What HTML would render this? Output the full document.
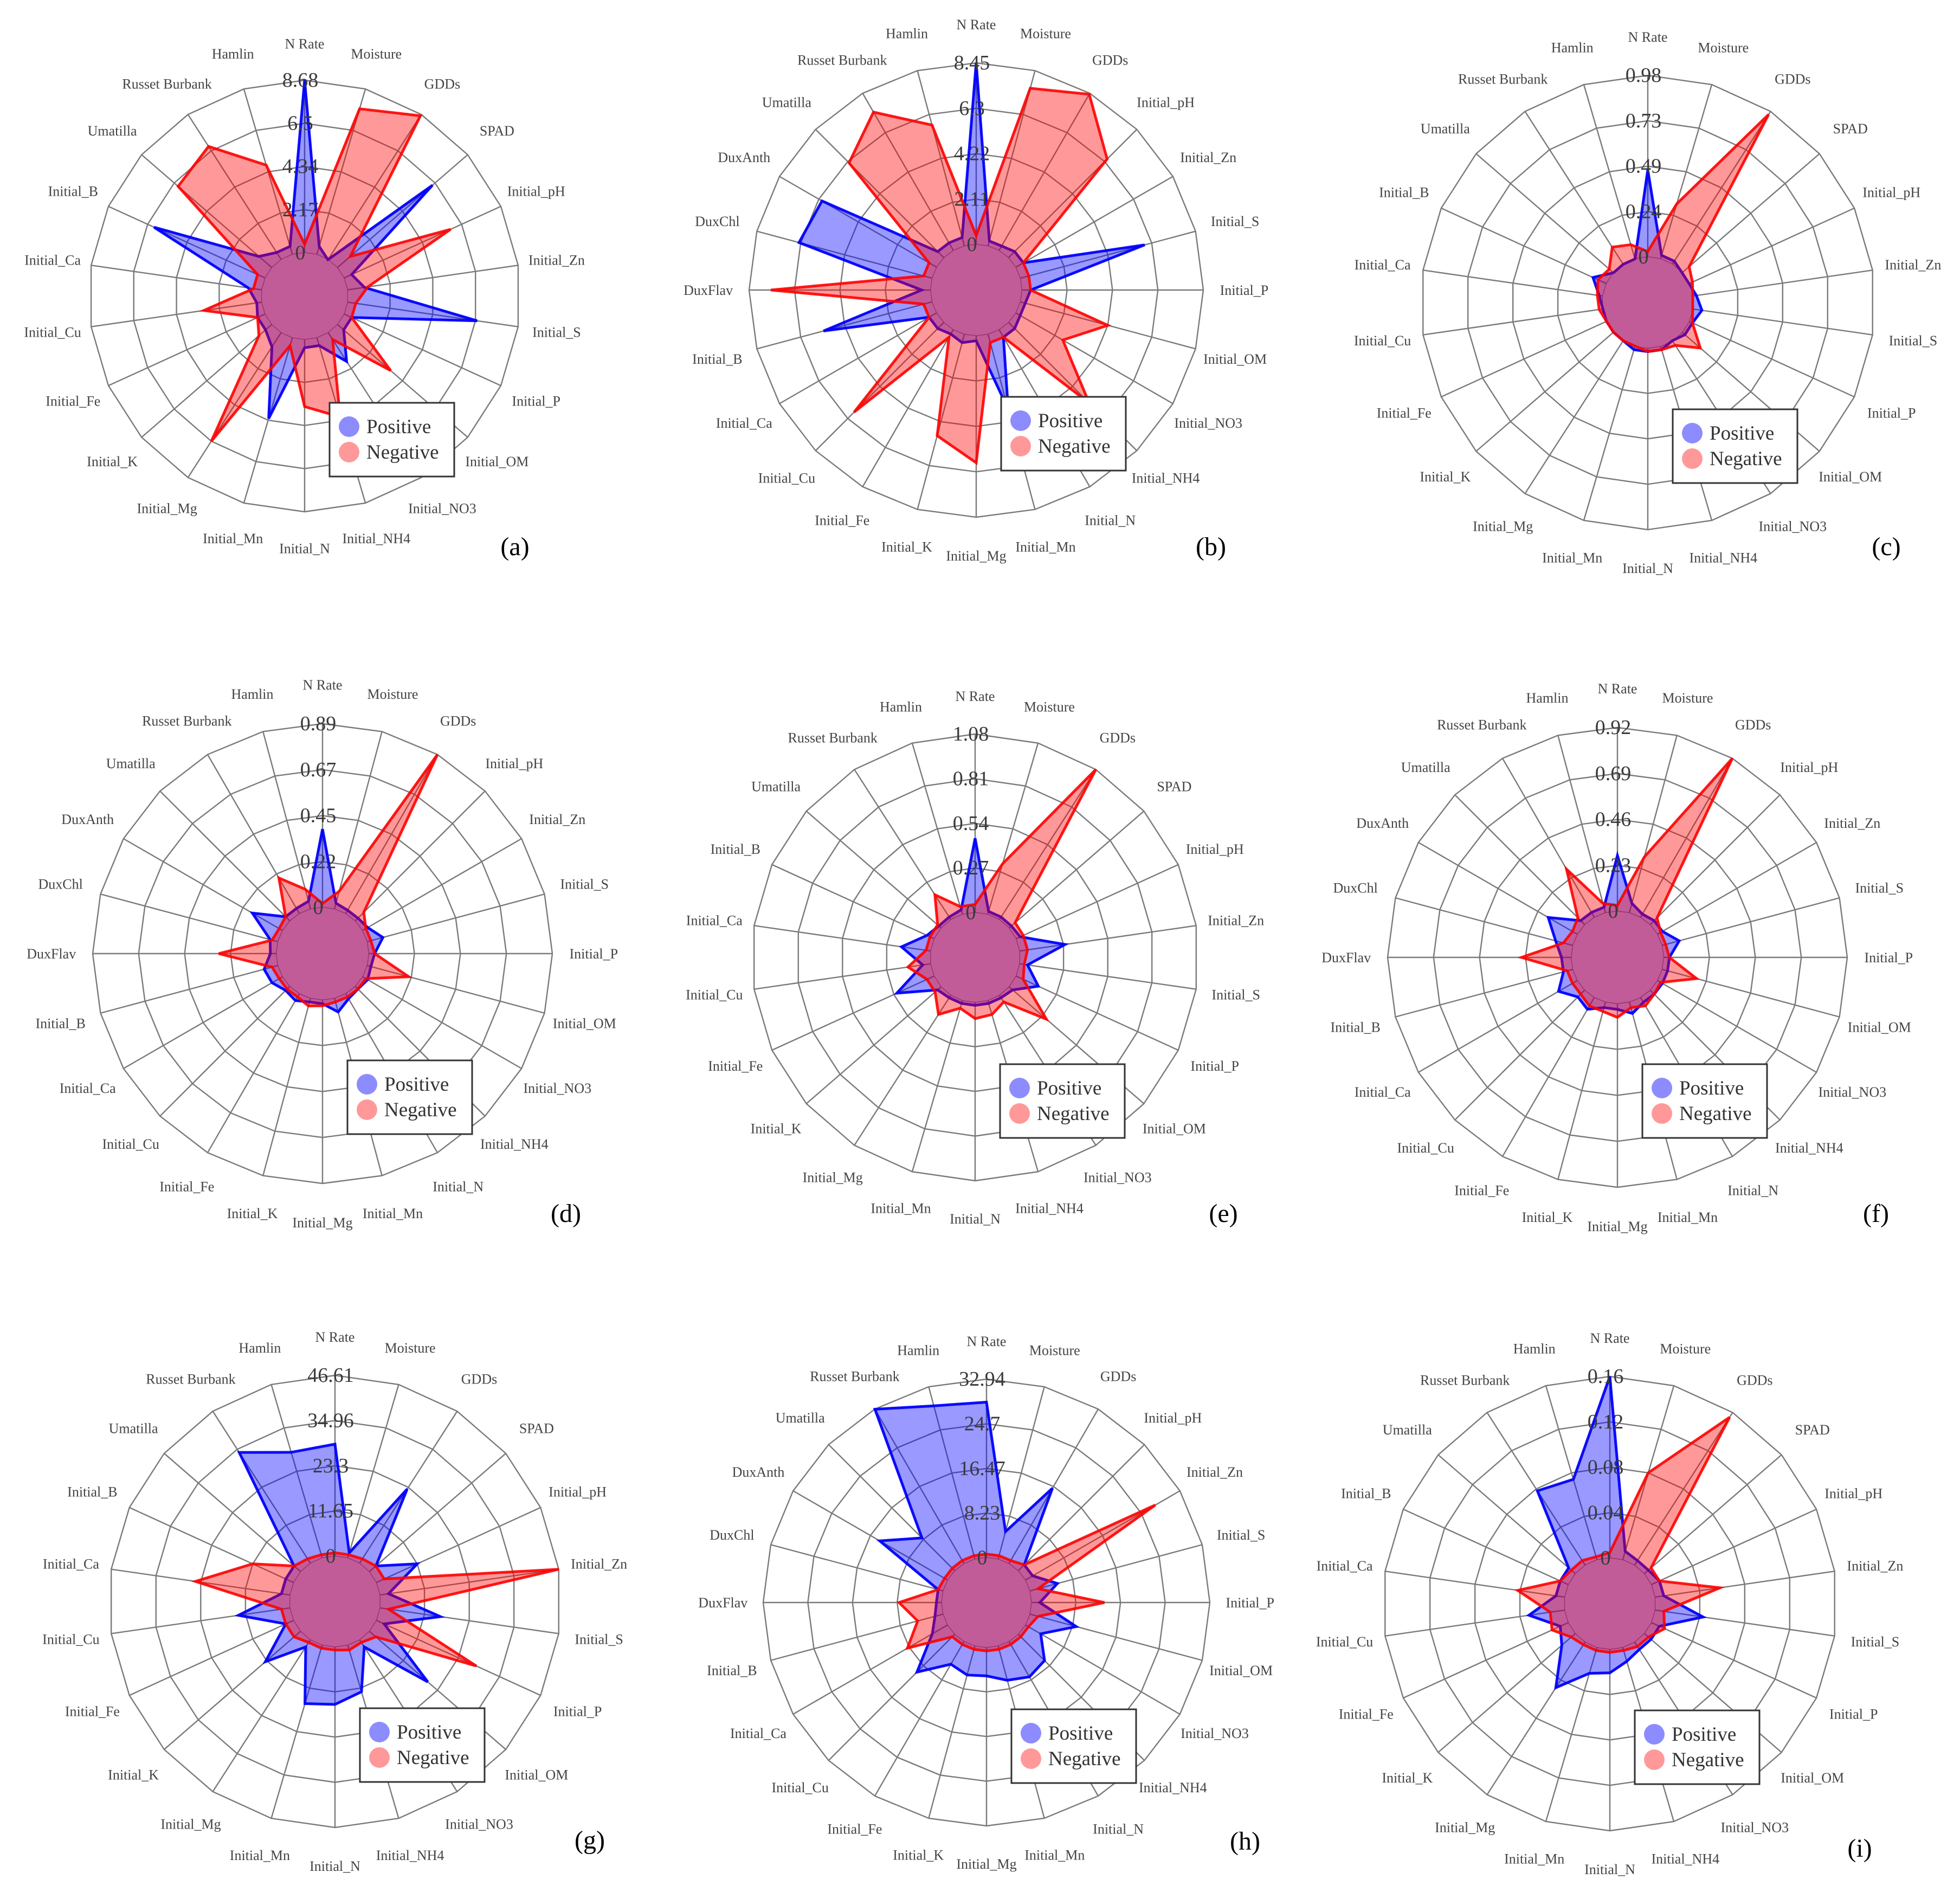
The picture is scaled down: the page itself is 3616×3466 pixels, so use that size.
<!DOCTYPE html>
<html>
<head>
<meta charset="utf-8">
<style>
html,body{margin:0;padding:0;background:#fff;}
svg{display:block;}
text{font-family:"Liberation Serif",serif;}
</style>
</head>
<body>
<svg id="fig" xmlns="http://www.w3.org/2000/svg" width="3616" height="3466" viewBox="0 0 3616 3466">
<rect width="3616" height="3466" fill="#fff"/>
</svg>
<script>
// ---- axis categories ----
const axes22 = ["N Rate","Moisture","GDDs","SPAD","Initial_pH","Initial_Zn","Initial_S","Initial_P","Initial_OM","Initial_NO3","Initial_NH4","Initial_N","Initial_Mn","Initial_Mg","Initial_K","Initial_Fe","Initial_Cu","Initial_Ca","Initial_B","Umatilla","Russet Burbank","Hamlin"];
const axes24 = ["N Rate","Moisture","GDDs","Initial_pH","Initial_Zn","Initial_S","Initial_P","Initial_OM","Initial_NO3","Initial_NH4","Initial_N","Initial_Mn","Initial_Mg","Initial_K","Initial_Fe","Initial_Cu","Initial_Ca","Initial_B","DuxFlav","DuxChl","DuxAnth","Umatilla","Russet Burbank","Hamlin"];

// ---- scale maxima and tick labels ----
const maxA = 8.68, ticksA = ["0","2.17","4.34","6.5","8.68"];
const maxB = 8.45, ticksB = ["0","2.11","4.22","6.3","8.45"];
const maxC = 0.98, ticksC = ["0","0.24","0.49","0.73","0.98"];
const maxD = 0.89, ticksD = ["0","0.22","0.45","0.67","0.89"];
const maxE = 1.08, ticksE = ["0","0.27","0.54","0.81","1.08"];
const maxF = 0.92, ticksF = ["0","0.23","0.46","0.69","0.92"];
const maxG = 46.61, ticksG = ["0","11.65","23.3","34.96","46.61"];
const maxH = 32.94, ticksH = ["0","8.23","16.47","24.7","32.94"];
const maxI = 0.16, ticksI = ["0","0.04","0.08","0.12","0.16"];

// ---- series values ----
const posA = [8.68,.43,0,6.34,.43,.87,6.6,.43,.43,1.74,.43,.43,4.25,.87,.43,.43,.26,.69,6.16,.87,.43,.43];
const negA = [.43,7.64,8.6,.87,5.9,1.04,.43,.43,3.56,.43,4.17,3.39,.43,6.51,.87,.43,2.95,.43,.43,6.25,6.77,4.69];
const posB = [8.45,.25,.25,.42,.42,6.0,.42,.25,.25,.42,.42,3.63,.25,.42,.25,.42,.42,5.24,.42,6.42,6.17,.42,.42,.42];
const negB = [.42,7.6,8.4,6.5,.42,.42,.42,4.23,2.54,5.32,.42,.42,5.92,4.9,.42,5.92,.42,.42,7.44,.42,.42,6.25,7.44,5.83];
const posC = [.47,.02,.02,0,0,.02,.05,.02,.02,0,.02,.02,.02,0,0,0,0,.02,.08,0,0,0];
const negC = [.03,.31,.96,.05,.02,0,0,.02,.13,.03,.02,.02,0,0,0,0,.02,.03,.05,.03,.11,.08];
const posD = [.38,.03,.02,.02,.03,.08,.03,.02,.03,.02,.03,.07,.02,.02,.04,.03,.06,.07,.03,.04,.17,.03,.03,.04];
const negD = [.02,.09,.89,.06,.02,.02,.03,.21,.02,.02,.02,.02,.03,.04,.02,.02,.02,.03,.28,.03,.02,.03,.2,.1];
const posE = [.45,.02,.02,.02,.03,.28,.05,.15,.03,.02,.02,.02,.02,.02,.03,.25,.05,.18,.05,.02,.02,.03];
const negE = [.05,.32,1.08,.05,.05,.05,.03,.05,.3,.05,.09,.1,.05,.14,.05,.05,.14,.03,.03,.03,.18,.05];
const posF = [.28,.05,.02,.03,.03,.09,.03,.03,.03,.03,.03,.06,.03,.03,.07,.05,.11,.05,.05,.09,.17,.03,.03,.03];
const negF = [.03,.29,.92,.05,.02,.02,.03,.18,.02,.03,.05,.03,.07,.05,.05,.03,.03,.03,.25,.05,.03,.05,.28,.05];
const posG = [28.9,1.4,22.8,2.3,11.7,2.3,15.8,2.3,20.0,2.3,12.6,14.9,15.8,2.3,12.1,2.3,13.5,2.3,2.3,2.3,34.0,28.4];
const negG = [.9,.9,1.4,2.3,2.3,46.6,2.3,28.4,2.3,.9,1.4,.9,.9,.9,2.3,2.3,2.3,24.7,11.7,2.3,1.4,.9];
const posH = [28.7,5.3,16.1,1.6,1.6,5.3,1.6,8.9,3.3,6.9,7.6,6.6,5.3,5.6,4.9,9.9,3.3,1.6,1.0,1.0,14.5,8.6,32.9,29.3];
const negH = [.7,.7,.7,1.6,27.7,1.6,13.5,1.6,.7,.7,.7,.7,.7,.7,.7,.7,8.6,4.9,7.9,1.0,.7,.7,.7,.7];
const posI = [.16,.008,.005,.005,.008,.008,.043,.008,.008,.008,.013,.021,.024,.048,.016,.008,.032,.008,.008,.008,.078,.074];
const negI = [.005,.08,.155,.008,.008,.058,.008,.013,.005,.005,.003,.003,.003,.003,.005,.016,.013,.042,.008,.005,.005,.003];

const panelLetters = ["(a)","(b)","(c)","(d)","(e)","(f)","(g)","(h)","(i)"];

const NS = "http://www.w3.org/2000/svg";
const svg = document.getElementById("fig");
function mk(tag, parent){ const e = document.createElementNS(NS, tag); parent.appendChild(e); return e; }

function radar(letter, cx, cy, R, axes, max, ticks, pos, neg, lx, ly){
  const g = mk("g", svg);
  
  
  const n = axes.length;
  const ang = i => i * 2 * Math.PI / n;
  const rad = v => R * (0.2 + 0.8 * v / max);
  const px = (i, r) => cx + r * Math.sin(ang(i));
  const py = (i, r) => cy - r * Math.cos(ang(i));
  // grid rings
  for (let k = 1; k <= 5; k++) {
    const rr = R * k / 5;
    const pts = [];
    for (let i = 0; i < n; i++) pts.push(px(i, rr).toFixed(1) + "," + py(i, rr).toFixed(1));
    const p = mk("polygon", g);
    
    
    p.setAttribute("points", pts.join(" "));
    p.setAttribute("fill", "none"); p.setAttribute("stroke", "#7a7a7a"); p.setAttribute("stroke-width", "2.4");
  }
  // axis lines
  for (let i = 0; i < n; i++) {
    const l = mk("line", g);
    
    
    l.setAttribute("x1", cx); l.setAttribute("y1", cy);
    l.setAttribute("x2", px(i, R)); l.setAttribute("y2", py(i, R));
    l.setAttribute("stroke", "#7a7a7a"); l.setAttribute("stroke-width", "2.4");
  }
  // white core hiding inner grid
  const corePts = [];
  for (let i = 0; i < n; i++) corePts.push(px(i, R * 0.2).toFixed(1) + "," + py(i, R * 0.2).toFixed(1));
  const core = mk("polygon", g);
  
  
  core.setAttribute("points", corePts.join(" "));
  core.setAttribute("fill", "#fff");
  // series
  function series(vals, fill, stroke, name){
    const pts = vals.map((v, i) => px(i, rad(v)).toFixed(1) + "," + py(i, rad(v)).toFixed(1));
    const p = mk("polygon", g);
    
    
    p.setAttribute("points", pts.join(" "));
    p.setAttribute("fill", fill); p.setAttribute("stroke", stroke);
    p.setAttribute("stroke-width", "5"); p.setAttribute("stroke-linejoin", "miter");
  }
  series(pos, "rgba(0,0,255,0.4)", "rgba(0,0,255,0.95)", "positive-series");
  series(neg, "rgba(255,0,0,0.4)", "rgba(255,0,0,0.9)", "negative-series");
  // tick labels
  for (let k = 0; k < ticks.length; k++) {
    const t = mk("text", g);
    
    
    t.setAttribute("x", cx - 8);
    t.setAttribute("y", cy - R * (0.2 + 0.8 * k / (ticks.length - 1)) + 12);
    t.setAttribute("text-anchor", "middle");
    t.setAttribute("font-size", "38"); t.setAttribute("fill", "#3a3a3a");
    t.textContent = ticks[k];
  }
  // axis labels
  for (let i = 0; i < n; i++) {
    const t = mk("text", g);
    
    
    t.setAttribute("x", px(i, R * 1.18).toFixed(1));
    t.setAttribute("y", (py(i, R * 1.17) + 9).toFixed(1));
    t.setAttribute("text-anchor", "middle");
    t.setAttribute("font-size", "26"); t.setAttribute("fill", "#444");
    t.textContent = axes[i];
  }
  // legend
  const lg = mk("g", g);
  
  
  const bx = cx + 46, by = cy + 197;
  const box = mk("rect", lg);
  
  
  box.setAttribute("x", bx); box.setAttribute("y", by); box.setAttribute("width", 230); box.setAttribute("height", 136);
  box.setAttribute("fill", "#fff"); box.setAttribute("stroke", "#333"); box.setAttribute("stroke-width", "3");
  const entries = [["Positive", "rgba(0,0,255,0.45)"], ["Negative", "rgba(255,0,0,0.4)"]];
  entries.forEach((e, j) => {
    const c = mk("circle", lg);
    
    
    c.setAttribute("cx", bx + 36); c.setAttribute("cy", by + 44 + j * 47); c.setAttribute("r", 19);
    c.setAttribute("fill", e[1]);
    const t = mk("text", lg);
    
    
    t.setAttribute("x", bx + 68); t.setAttribute("y", by + 56 + j * 47);
    t.setAttribute("font-size", "37"); t.setAttribute("fill", "#333");
    t.textContent = e[0];
  });
  // panel letter
  const pl = mk("text", g);
  
  
  pl.setAttribute("x", lx); pl.setAttribute("y", ly);
  pl.setAttribute("text-anchor", "middle");
  pl.setAttribute("font-size", "48"); pl.setAttribute("fill", "#000");
  pl.textContent = letter;
}

radar(panelLetters[0], 562, 546, 398, axes22, maxA, ticksA, posA, negA, 950, 1024);
radar(panelLetters[1], 1801, 535, 419, axes24, maxB, ticksB, posB, negB, 2234, 1024);
radar(panelLetters[2], 3040, 558, 419, axes22, maxC, ticksC, posC, negC, 3480, 1024);
radar(panelLetters[3], 595, 1759, 424, axes24, maxD, ticksD, posD, negD, 1044, 2254);
radar(panelLetters[4], 1799, 1766, 412, axes22, maxE, ticksE, posE, negE, 2257, 2254);
radar(panelLetters[5], 2984, 1766, 424, axes24, maxF, ticksF, posF, negF, 3461, 2254);
radar(panelLetters[6], 618, 2954, 417, axes22, maxG, ticksG, posG, negG, 1088, 3410);
radar(panelLetters[7], 1820, 2956, 412, axes24, maxH, ticksH, posH, negH, 2297, 3412);
radar(panelLetters[8], 2970, 2958, 419, axes22, maxI, ticksI, posI, negI, 3431, 3425);
</script>
</body>
</html>
